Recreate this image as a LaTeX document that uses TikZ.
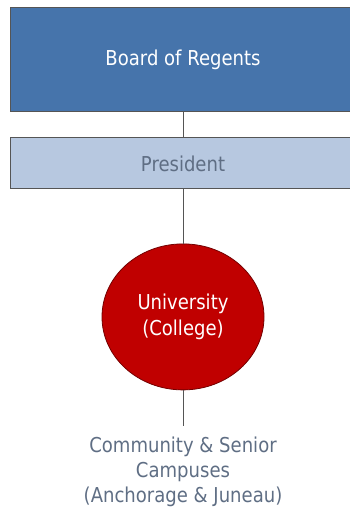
\documentclass[tikz,border=0pt]{standalone}
\usepackage{fontspec}
\setmainfont{DejaVu Sans}[FakeStretch=0.88]
\usetikzlibrary{positioning,shapes.geometric}

\definecolor{regentblue}{HTML}{4674AB}
\definecolor{presblue}{HTML}{B7C8E0}
\definecolor{prestext}{HTML}{5F6E84}
\definecolor{uared}{HTML}{C00000}
\definecolor{linegray}{HTML}{555555}

\begin{document}
\begin{tikzpicture}[
x=1pt, y=1pt,
font=\fontsize{20.5}{25.5}\selectfont,
box/.style={rectangle, draw=linegray, line width=1pt, minimum width=346pt, align=center},
link/.style={draw=linegray, line width=1pt}
]
\useasboundingbox (0,0) rectangle (349,-510);

\node[box, fill=regentblue, text=white, minimum height=104pt] (board) at (183,-60) {Board of Regents};
\node[box, fill=presblue, text=prestext, minimum height=51pt, below=25pt of board] (pres) {President};

\node[ellipse, draw=uared!60!black, line width=0.8pt, fill=uared, text=white, minimum width=162pt, minimum height=146pt, inner sep=0pt, align=center, below=54pt of pres] (college) {University\\(College)};

\node[align=center, text=prestext, font=\fontsize{20.5}{25}\selectfont, inner xsep=0pt, inner ysep=10pt, below=36pt of college] (campus) {Community \& Senior\\Campuses\\(Anchorage \& Juneau)};

\draw[link] (board) -- (pres);
\draw[link] (pres) -- (college);
\draw[link] (college) -- (campus);

\end{tikzpicture}
\end{document}
